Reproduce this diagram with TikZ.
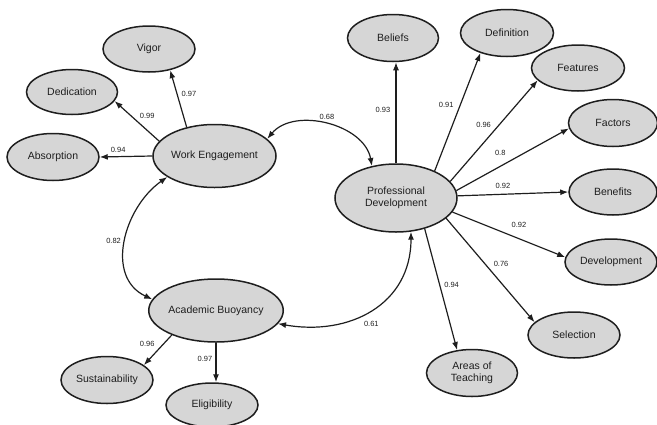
\documentclass[tikz,border=0pt]{standalone}
\usepackage{fontspec}
\setmainfont{Liberation Sans}
\usetikzlibrary{shapes.geometric,arrows.meta}
\definecolor{inkc}{RGB}{30,30,30}
\definecolor{fillc}{RGB}{214,214,214}
\tikzset{
  lat/.style={ellipse, draw=inkc, line width=1.5pt, fill=fillc, inner sep=0pt,
              minimum width=92pt, minimum height=46pt, font=\fontsize{10.5}{12}\selectfont,
              text=inkc, align=center},
  conn/.style={draw=inkc, line width=1.2pt, -{Latex[length=8pt,width=6pt]}},
  biconn/.style={draw=inkc, line width=1.2pt, {Latex[length=8pt,width=6pt]}-{Latex[length=8pt,width=6pt]}},
  lbl/.style={font=\fontsize{7.5}{8}\selectfont, text=inkc, inner sep=1pt}
}
\begin{document}
\begin{tikzpicture}[x=1pt,y=1pt]
\useasboundingbox (0,0) rectangle (657,-424);
% nodes
\node[lat] (vigor) at (149,-49) {Vigor};
\node[lat, minimum width=91pt, minimum height=45pt] (dedic) at (72,-92) {Dedication};
\node[lat, minimum height=47pt] (absorp) at (53,-157) {Absorption};
\node[lat, minimum width=123pt, minimum height=63pt] (we) at (214.5,-156) {Work Engagement};
\node[lat, minimum width=91pt, minimum height=47pt] (beliefs) at (393,-38) {Beliefs};
\node[lat, minimum width=93pt, minimum height=47pt] (defin) at (507,-33) {Definition};
\node[lat, minimum width=93pt] (features) at (578,-68) {Features};
\node[lat, minimum width=89pt, minimum height=47pt] (factors) at (613,-123) {Factors};
\node[lat, minimum width=88pt] (benefits) at (613,-192) {Benefits};
\node[lat, minimum width=122pt, minimum height=68pt] (pd) at (396,-198) {Professional\\Development};
\node[lat] (dev) at (611,-262) {Development};
\node[lat] (sel) at (574,-335) {Selection};
\node[lat, minimum width=91pt, minimum height=47pt] (areas) at (472,-373) {Areas of\\Teaching};
\node[lat, minimum width=122pt, minimum height=63pt] (ab) at (216,-310.5) {Academic Buoyancy};
\node[lat, minimum height=47pt] (sust) at (107,-380) {Sustainability};
\node[lat, minimum height=44pt] (elig) at (212,-405) {Eligibility};
% loadings
\draw[conn] (we.134) -- node[lbl, pos=0.59, xshift=12pt] {0.97} (vigor.-45);
\draw[conn] (we.165) -- node[lbl, pos=0.27, yshift=14pt] {0.99} (dedic.-12);
\draw[conn] (we.west) -- node[lbl, pos=0.65, yshift=7pt] {0.94} (absorp.east);
\draw[conn] (pd.north) -- node[lbl, pos=0.53, xshift=-13pt] {0.93} (pd.north |- beliefs.south);
\draw[conn] (pd.35) -- node[lbl, pos=0.56, xshift=-14pt] {0.91} (defin.-143);
\draw[conn] (pd.17) -- node[lbl, pos=0.45, xshift=-6pt, yshift=11pt] {0.96} (features.-163);
\draw[conn] (pd.7) -- node[lbl, pos=0.39, yshift=13pt] {0.8} (factors.-173);
\draw[conn] (pd.2) -- node[lbl, pos=0.41, yshift=8pt] {0.92} (benefits.west);
\draw[conn] (pd.-14) -- node[lbl, pos=0.59, yshift=14pt] {0.92} (dev.174);
\draw[conn] (pd.-22) -- node[lbl, pos=0.44, xshift=16pt] {0.76} (sel.162);
\draw[conn] (pd.-47) -- node[lbl, pos=0.46, xshift=12pt] {0.94} (areas.123);
\draw[conn] (ab.-151) -- node[lbl, pos=0.31, xshift=-16pt] {0.96} (sust.22);
\draw[conn] (ab.south) -- node[lbl, pos=0.4, xshift=-11pt] {0.97} (ab.south |- elig.north);
% correlations
\draw[biconn] (we.18) to[out=50,in=100] node[lbl, pos=0.5, yshift=8pt] {0.68} (pd.127);
\draw[biconn] (we.-156) to[out=215,in=155,looseness=1.1] node[lbl, pos=0.5, xshift=-12pt] {0.82} (ab.170);
\draw[biconn] (ab.-12) to[out=-10,in=-90,looseness=1.15] node[lbl, pos=0.5, yshift=-14pt] {0.61} (pd.-66);
\end{tikzpicture}
\end{document}
